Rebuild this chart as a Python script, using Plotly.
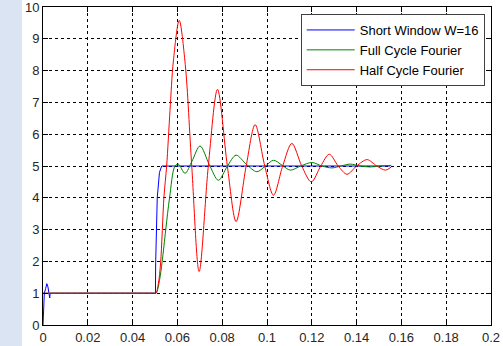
import plotly.graph_objects as go

# ---- data ----
blue_x = [0.0, 0.0003, 0.0006, 0.0012, 0.0017, 0.0022, 0.0027, 0.0030, 0.0032, 0.0502,
          0.0503, 0.0507, 0.0510, 0.0520, 0.0530, 0.155]
blue_y = [0.0, 0.6, 1.0, 1.15, 1.3, 1.2, 0.95, 0.85, 1.0, 1.0,
          1.95, 3.0, 4.0, 4.8, 5.0, 5.0]

green_x = [0.0, 0.02, 0.04, 0.0495, 0.0505, 0.0520, 0.0532, 0.0548, 0.0565, 0.0589, 0.0604,
           0.0634, 0.0665, 0.0701, 0.0742, 0.0783, 0.0822, 0.0862, 0.0908, 0.0955, 0.0990,
           0.1029, 0.1068, 0.1104, 0.1150, 0.1201, 0.1245, 0.1290, 0.1330, 0.1372, 0.1415,
           0.1460, 0.1505, 0.1555]
green_y = [1.0, 1.0, 1.0, 1.0, 1.0, 1.4, 2.0, 3.0, 4.0, 5.0, 5.06,
           4.77, 5.15, 5.63, 5.05, 4.55, 4.98, 5.34, 5.05, 4.82, 4.98,
           5.18, 5.02, 4.87, 5.0, 5.11, 5.0, 4.94, 5.0, 5.06, 5.0,
           4.97, 5.0, 5.02]

red_x = [0.0, 0.02, 0.04, 0.0495, 0.0504, 0.0515, 0.0525, 0.0540, 0.0552, 0.0567, 0.0582,
         0.0608, 0.0635, 0.0664, 0.0697, 0.0738, 0.0779, 0.0823, 0.0862, 0.0907, 0.0947,
         0.0990, 0.1029, 0.1070, 0.1111, 0.1155, 0.1198, 0.1240, 0.1278, 0.1318, 0.1357,
         0.1400, 0.1447, 0.1490, 0.1529, 0.1555]
red_y = [1.0, 1.0, 1.0, 1.0, 1.0, 1.3, 1.95, 4.03, 5.0, 6.75, 8.3,
         9.58, 8.2, 5.0, 1.68, 5.0, 7.41, 5.0, 3.25, 5.0, 6.3,
         5.0, 4.08, 5.0, 5.71, 5.0, 4.5, 5.0, 5.37, 5.0, 4.74,
         5.0, 5.2, 5.0, 4.87, 4.97]

series_names = ["Short Window W=16", "Full Cycle Fourier", "Half Cycle Fourier"]
series_colors = ["#0000ff", "#008000", "#ff0000"]

x_ticks = [0, 0.02, 0.04, 0.06, 0.08, 0.1, 0.12, 0.14, 0.16, 0.18, 0.2]
x_tick_labels = ["0", "0.02", "0.04", "0.06", "0.08", "0.1", "0.12", "0.14", "0.16", "0.18", "0.2"]
y_ticks = list(range(0, 11))

fig = go.Figure()
fig.add_trace(go.Scatter(x=blue_x, y=blue_y, mode="lines", name=series_names[0],
                         line=dict(color=series_colors[0], width=1)))
fig.add_trace(go.Scatter(x=green_x, y=green_y, mode="lines", name=series_names[1],
                         line=dict(color=series_colors[1], width=1, shape="spline", smoothing=0.9)))
fig.add_trace(go.Scatter(x=red_x, y=red_y, mode="lines", name=series_names[2],
                         line=dict(color=series_colors[2], width=1, shape="spline", smoothing=0.9)))

axis_common = dict(
    showgrid=True, gridcolor="#000000", gridwidth=1, griddash="3px,3px",
    showline=True, linecolor="#000000", linewidth=1, mirror="ticks",
    ticks="inside", ticklen=5, tickcolor="#000000", zeroline=False,
    automargin=False, ticklabeloverflow="allow",
    tickfont=dict(family="Liberation Sans, Arial, sans-serif", size=13, color="#262626"),
)

fig.update_xaxes(range=[0, 0.2], tickvals=x_ticks, ticktext=x_tick_labels, **axis_common)
fig.update_yaxes(range=[0, 10], tickvals=y_ticks, **axis_common)

fig.add_shape(type="rect", xref="paper", yref="paper", x0=-43 / 448, x1=-21 / 448,
              y0=-2, y1=2, fillcolor="#dbe4f3", line=dict(width=0), layer="below")

fig.update_layout(
    template="none",
    width=503, height=346,
    margin=dict(l=43, r=12, t=7, b=21, pad=0),
    paper_bgcolor="#ffffff", plot_bgcolor="#ffffff",
    showlegend=True,
    legend=dict(x=0.986, y=0.978, xanchor="right", yanchor="top",
                bgcolor="#ffffff", bordercolor="#404040", borderwidth=1,
                font=dict(family="Liberation Sans, Arial, sans-serif", size=13, color="#000000"),
                tracegroupgap=0, itemwidth=48),
)

fig.write_html("out.html")
